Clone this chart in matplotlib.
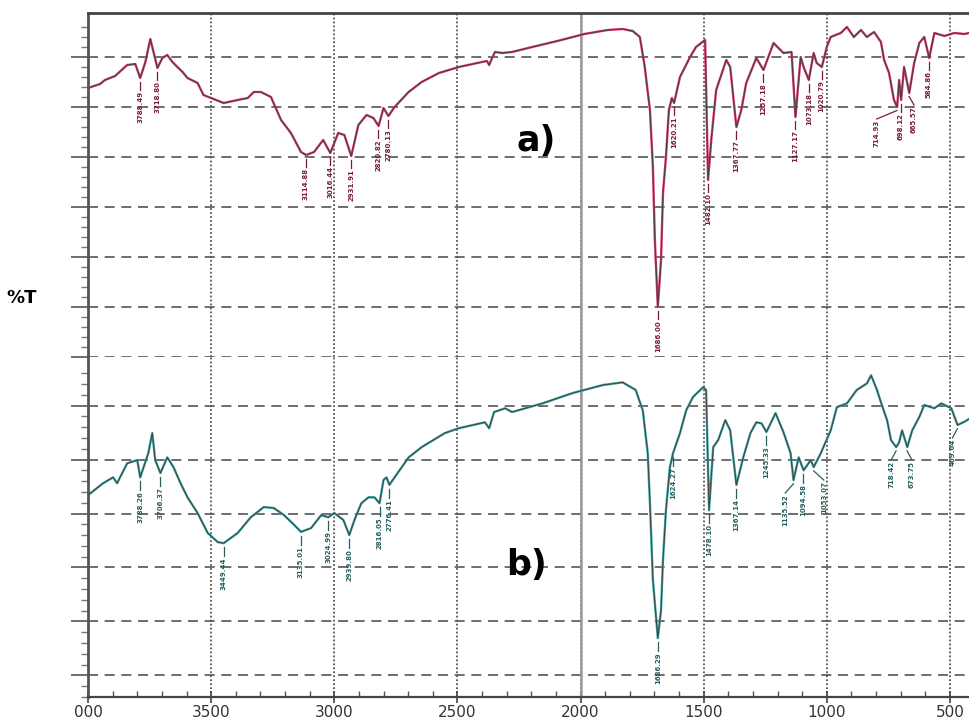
import numpy as np
import matplotlib.pyplot as plt

# ---- spectrum a) : wavenumber (cm-1) vs %T (panel units) ----
top_wn = [4000, 3951, 3931, 3890, 3841, 3808, 3788, 3767, 3747, 3731, 3718, 3698, 3678, 3657,
          3637, 3616, 3596, 3555, 3531, 3490, 3449, 3392, 3351, 3327, 3298, 3257, 3216, 3176,
          3135, 3114, 3082, 3045, 3016, 2984, 2959, 2931, 2902, 2869, 2841, 2820, 2800, 2780,
          2755, 2698, 2645, 2575, 2494, 2400, 2380, 2371, 2359, 2347, 2318, 2278, 2196, 2094,
          1984, 1890, 1829, 1788, 1759, 1739, 1718, 1706, 1698, 1686, 1673, 1665, 1653, 1641,
          1629, 1620, 1596, 1555, 1531, 1494, 1482, 1469, 1449, 1408, 1392, 1367, 1347, 1327,
          1286, 1257, 1216, 1176, 1143, 1127, 1106, 1094, 1073, 1053, 1041, 1020, 1000, 984,
          943, 918, 890, 861, 837, 808, 780, 767, 747, 727, 714, 706, 698, 686, 665, 645,
          624, 604, 584, 563, 522, 482, 441, 404]
top_T = [53.8, 54.6, 55.4, 56.2, 58.4, 58.6, 55.8, 59.0, 63.6, 60.4, 57.8, 59.8, 60.4, 59.0,
         58.0, 57.0, 55.8, 54.8, 52.4, 51.6, 50.8, 51.4, 51.8, 53.0, 53.0, 52.0, 47.4, 44.8,
         41.0, 40.4, 41.0, 43.4, 40.8, 44.8, 44.4, 40.2, 46.4, 48.4, 47.8, 46.2, 49.8, 48.2,
         50.0, 53.0, 55.0, 56.8, 58.0, 59.0, 59.2, 58.4, 59.8, 61.0, 60.8, 61.0, 62.0, 63.2,
         64.6, 65.4, 65.6, 65.2, 64.0, 58.0, 49.4, 38.0, 23.4, 10.0, 19.4, 32.8, 40.0, 49.4,
         51.8, 50.8, 56.0, 60.0, 62.0, 63.4, 35.4, 43.4, 53.4, 59.4, 58.0, 46.0, 49.4, 54.8,
         59.8, 57.4, 62.8, 60.8, 61.0, 48.0, 60.0, 58.0, 55.4, 60.8, 58.8, 58.0, 62.0, 64.0,
         64.8, 66.0, 64.0, 65.4, 64.0, 65.0, 63.0, 59.4, 56.8, 51.4, 50.0, 55.4, 51.4, 58.0,
         52.8, 58.8, 62.8, 64.0, 59.8, 64.8, 64.2, 64.8, 64.6, 65.0]

# ---- spectrum b) ----
bot_wn = [4000, 3939, 3898, 3882, 3841, 3800, 3788, 3755, 3739, 3727, 3706, 3678, 3653, 3624,
          3596, 3555, 3514, 3473, 3449, 3392, 3339, 3286, 3245, 3204, 3163, 3135, 3094, 3053,
          3024, 3000, 2963, 2939, 2918, 2890, 2861, 2837, 2816, 2800, 2788, 2776, 2755, 2698,
          2645, 2551, 2494, 2388, 2371, 2351, 2306, 2278, 2155, 2033, 1910, 1829, 1776, 1747,
          1727, 1718, 1706, 1686, 1673, 1665, 1653, 1637, 1624, 1596, 1571, 1543, 1502, 1490,
          1478, 1461, 1441, 1412, 1392, 1367, 1339, 1310, 1286, 1265, 1245, 1208, 1176, 1147,
          1135, 1114, 1094, 1065, 1053, 1024, 984, 959, 918, 878, 837, 820, 796, 780, 755,
          739, 718, 706, 694, 673, 653, 624, 604, 563, 535, 494, 469, 441, 408]
bot_T = [33.4, 35.6, 36.7, 35.6, 39.3, 39.9, 36.7, 41.2, 44.9, 39.9, 37.5, 40.4, 38.6, 35.6,
         33.0, 30.1, 26.4, 24.7, 24.5, 26.4, 29.3, 31.2, 31.0, 29.7, 27.9, 26.6, 27.3, 29.7,
         29.3, 30.1, 28.8, 26.0, 28.8, 31.9, 33.0, 33.0, 31.9, 36.2, 36.7, 35.3, 36.7, 40.4,
         42.3, 44.9, 45.8, 46.9, 45.8, 48.8, 49.5, 48.8, 50.4, 52.3, 53.8, 54.3, 52.9, 49.1,
         41.2, 31.9, 17.7, 6.9, 12.1, 21.4, 30.6, 38.6, 41.2, 44.9, 49.1, 51.6, 53.4, 52.9,
         30.6, 42.3, 43.6, 47.3, 45.4, 35.3, 40.4, 44.9, 46.9, 46.7, 45.1, 48.6, 45.1, 41.2,
         36.2, 40.4, 38.0, 39.9, 38.6, 41.2, 45.4, 49.7, 50.4, 52.9, 54.1, 55.6, 52.9, 50.6, 47.3,
         43.6, 42.3, 43.2, 45.4, 42.3, 45.4, 47.9, 50.1, 49.5, 50.4, 49.5, 46.4, 47.0, 47.9]

# peak labels
top_peaks = [3788.49, 3718.80, 3114.88, 3016.44, 2931.91, 2820.82, 2780.13, 1686.00, 1620.21,
             1482.10, 1367.77, 1257.18, 1127.17, 1073.18, 1020.79, 714.93, 698.12, 665.57, 584.86]
bot_peaks = [3788.26, 3706.37, 3449.44, 3135.01, 3024.99, 2939.80, 2816.05, 2776.41, 1686.29,
             1624.27, 1478.10, 1367.14, 1245.33, 1135.52, 1094.58, 1053.07, 718.42, 673.75, 469.64]
tick_vals = [4000, 3500, 3000, 2500, 2000, 1500, 1000, 500]
tick_labs = ['000', '3500', '3000', '2500', '2000', '1500', '1000', '500']

# label text shifts (cm-1), layout only
top_dx = {714.93: 82, 665.57: -20}
bot_dx = {1135.52: 33, 1053.07: -41, 718.42: 20, 673.75: -20, 469.64: 20}

fig = plt.figure(figsize=(9.69, 7.27), dpi=100)
W, H = 969, 727
left = 88 / W
width = (974.5 - 88) / W
ax1 = fig.add_axes([left, (H - 357) / H, width, 344 / H])
ax2 = fig.add_axes([left, (H - 697) / H, width, 340 / H])

ax1.set_ylim(0, 68.8)
ax2.set_ylim(-4, 59)
ax1.set_yticks(np.arange(0, 61, 10))
ax2.set_yticks(np.arange(0, 51, 10))
ax1.set_yticks(np.arange(0, 68, 2), minor=True)
ax2.set_yticks(np.arange(-4, 58, 2), minor=True)

for ax in (ax1, ax2):
    ax.set_xlim(4000, 400)
    ax.set_xticks(tick_vals)
    ax.set_xticks(np.arange(4000, 399, -100), minor=True)
    ax.grid(axis='x', which='major', linestyle=(0, (1, 1.2)), color='#555555', lw=1.3)
    ax.grid(axis='y', which='major', linestyle=(0, (6, 4)), color='#555555', lw=1.2)
    ax.axvline(2000, color='#9a9a9a', lw=1.8)
    ax.spines['right'].set_visible(False)
    ax.spines['left'].set_linewidth(2)
    ax.spines['left'].set_color('#555555')
    ax.tick_params(axis='y', which='major', direction='out', length=12, width=1.2,
                   color='#555555', labelleft=False)
    ax.tick_params(axis='y', which='minor', direction='out', length=5, width=1,
                   color='#777777')
    ax.set_facecolor('white')

ax1.spines['bottom'].set_visible(False)
ax1.spines['top'].set_linewidth(2)
ax1.spines['top'].set_color('#444444')
ax1.tick_params(axis='x', which='both', length=0, labelbottom=False)
ax2.spines['top'].set_visible(False)
ax2.spines['bottom'].set_linewidth(1.6)
ax2.spines['bottom'].set_color('#444444')
ax2.tick_params(axis='x', which='major', direction='inout', length=8, width=1.2,
                color='#444444', labelsize=11, labelcolor='#333333', pad=2)
ax2.tick_params(axis='x', which='minor', direction='in', length=4, width=1,
                color='#555555')
ax2.set_xticklabels(tick_labs)

# spectra: coloured trace with the dark pen line over it
ax1.plot(top_wn, top_T, color='#d83866', lw=1.7)
ax1.plot(top_wn, top_T, color='#404040', lw=0.7)
ax2.plot(bot_wn, bot_T, color='#3aa5a5', lw=1.7)
ax2.plot(bot_wn, bot_T, color='#404040', lw=0.7)


def label_peaks(ax, wn, T, peaks, dx, color):
    order = np.argsort(wn)
    w = np.array(wn)[order]
    t = np.array(T)[order]
    for p in peaks:
        sel = (w > p - 12) & (w < p + 12)
        tip = t[sel].min() if sel.any() else np.interp(p, w, t)
        tx = p + dx.get(p, 0)
        ax.plot([p, tx], [tip - 0.7, tip - 2.4], color=color, lw=0.9)
        ax.text(tx, tip - 2.6, f'{p:.2f}', rotation=90, ha='center', va='top',
                fontsize=5, color=color, fontweight='bold')


label_peaks(ax1, top_wn, top_T, top_peaks, top_dx, '#7a1d33')
label_peaks(ax2, bot_wn, bot_T, bot_peaks, bot_dx, '#285f5f')

ax1.text(2180, 43.2, 'a)', fontsize=25, fontweight='bold', ha='center', va='center')
ax2.text(2220, 20.5, 'b)', fontsize=25, fontweight='bold', ha='center', va='center')
fig.text(22 / W, 1 - 298 / H, '%T', fontsize=13, fontweight='bold', ha='center', va='center')

fig.savefig('out.png', dpi=100)
